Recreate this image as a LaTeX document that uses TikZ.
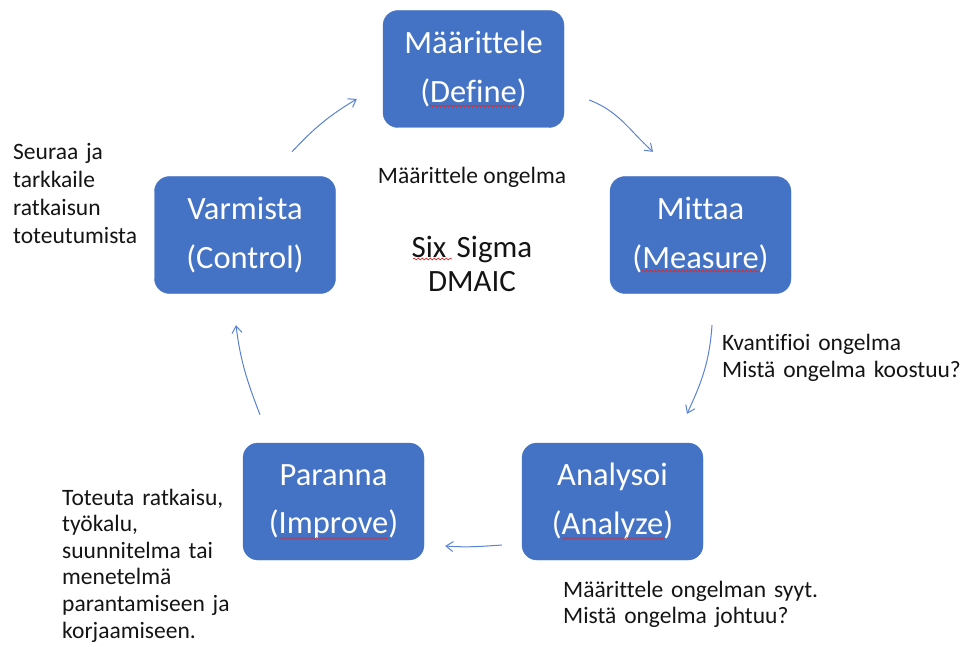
\documentclass[tikz,border=0pt]{standalone}
\usepackage{fontspec}
\setmainfont{Carlito}[Ligatures=NoCommon]
\usetikzlibrary{arrows.meta,calc,decorations.pathmorphing}
\definecolor{accent}{RGB}{68,114,196}
\definecolor{flowblue}{RGB}{90,130,210}
\definecolor{spellred}{RGB}{215,45,45}
\definecolor{ink}{RGB}{20,20,20}

\begin{document}
\begin{tikzpicture}[x=1pt,y=1pt,
  phase/.style={fill=accent, draw=accent, rounded corners=15pt,
    minimum width=181pt, minimum height=117pt, inner sep=0pt,
    text=white, align=center, font=\fontsize{32.5}{48.5}\selectfont},
  note/.style={font=\fontsize{23.5}{27.7}\selectfont, text=ink,
    inner sep=0pt, anchor=base west, text width=#1},
  note/.default=340pt,
  flow/.style={draw=flowblue, line width=1pt,
    -{Straight Barb[length=7pt,width=10pt]}},
  spell/.style={draw=spellred, line width=0.7pt, decorate,
    decoration={snake, amplitude=0.9pt, segment length=4pt}}
]
\useasboundingbox (0,0) rectangle (961,-647);

% the five DMAIC phases
\node[phase] (define)  at (473.5,-69)   {Määrittele\\(Define)};
\node[phase] (measure) at (700.5,-235)  {Mittaa\\(Measure)};
\node[phase] (analyze) at (612.5,-501.5){Analysoi\\(Analyze)};
\node[phase] (improve) at (333.5,-501.5){Paranna\\(Improve)};
\node[phase] (control) at (245,-235)    {Varmista\\(Control)};

% centre title
\node[font=\fontsize{31}{35}\selectfont, text=ink,
      text width=200pt, inner sep=0pt, anchor=base] (title) at (472,-257)
      {\centering Six Sigma\\DMAIC\par};
\node[font=\fontsize{23.5}{27.7}\selectfont, text=ink, inner sep=0pt,
      anchor=base] (defnote) at (472,-184) {Määrittele ongelma};

% explanatory notes
\node[note] (ctlnote) at (13,-160)
  {\raggedright Seuraa ja\\tarkkaile\\ratkaisun\\toteutumista\par};
\node[note=320pt] (msrnote) at (722,-350)
  {\raggedright Kvantifioi ongelma\\Mistä ongelma koostuu?\par};
\node[note, font=\fontsize{23.5}{26.5}\selectfont] (anlnote) at (563,-597)
  {\raggedright Määrittele ongelman syyt.\\Mistä ongelma johtuu?\par};
\node[note, font=\fontsize{23.5}{26.6}\selectfont] (impnote) at (62,-505)
  {\raggedright Toteuta ratkaisu,\\työkalu,\\suunnitelma tai\\menetelmä\\parantamiseen ja\\korjaamiseen.\par};

% arrow end points around the cycle
\coordinate (c1s) at ($(control.north)+(47,24.5)$);
\coordinate (c1e) at ($(define.west)+(-26,-30)$);
\coordinate (c2s) at ($(define.east)+(25,-31)$);
\coordinate (c2e) at ($(measure.north)+(-47.5,24.5)$);
\coordinate (c3s) at ($(measure.south)+(11.5,-31.5)$);
\coordinate (c3e) at ($(analyze.north)+(74.5,29)$);
\coordinate (c4s) at ($(analyze.west)+(-20,-43.5)$);
\coordinate (c4e) at ($(improve.east)+(21,-44.5)$);
\coordinate (c5s) at ($(improve.north)+(-73.5,28)$);
\coordinate (c5e) at ($(control.south)+(-9,-31.5)$);

\draw[flow] (c1s) to[out=47,in=211] (c1e);
\draw[flow] (c2s) to[out=-21,in=138] (c2e);
\draw[flow] (c3s) to[out=-94,in=65] (c3e);
\draw[flow] (c4s) to[out=184,in=-4] (c4e);
\draw[flow] (c5s) to[out=111,in=277] (c5e);

% wavy spelling marks under the English words
\draw[spell] ($(define.center)+(-44,-37)$) -- +(88,0);
\draw[spell] ($(measure.center)+(-59,-36)$) -- +(118,0);
\draw[spell] ($(analyze.center)+(-51,-37)$) -- +(102,0);
\draw[spell] ($(improve.center)+(-54,-37)$) -- +(108,0);
\draw[spell] ($(title.base)+(-59,-2)$) -- +(39,0);
\end{tikzpicture}
\end{document}
